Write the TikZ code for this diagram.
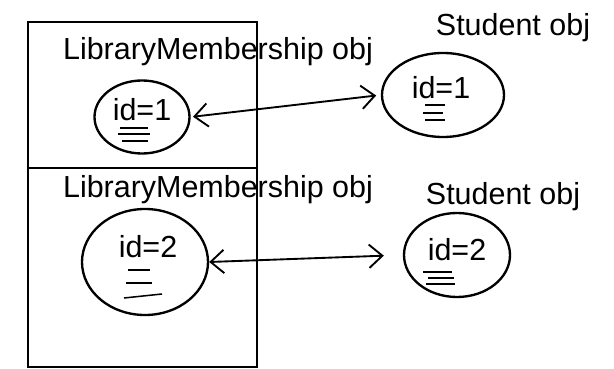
\documentclass[tikz,border=0pt]{standalone}
\usepackage{fontspec}
\setmainfont{Liberation Sans}
\usetikzlibrary{shapes.geometric,arrows.meta}

\begin{document}
\begin{tikzpicture}[x=0.03cm, y=-0.03cm, line width=2pt,
    objbox/.style={draw, rectangle, minimum width=6.87cm, inner sep=0pt},
    objcirc/.style={draw, ellipse, inner sep=0pt},
    lbl/.style={font=\fontsize{26}{30}\selectfont, inner sep=0pt},
    field/.style={line width=1.3pt},
    link/.style={{Straight Barb[length=4mm,width=7mm]}-{Straight Barb[length=4mm,width=7mm]}, line width=1.6pt}]
    \useasboundingbox (0,0) rectangle (614,369);
    % membership objects
    \node[objbox, minimum height=4.38cm] (box1) at (142.5,95) {};
    \node[objbox, minimum height=5.97cm] (box2) at (142.5,267.5) {};
    \node[lbl] (lm1) at (218,52) {LibraryMembership obj};
    \node[lbl] (lm2) at (218,190) {LibraryMembership obj};
    \node[objcirc, minimum width=2.85cm, minimum height=2.19cm] (m1) at (142,117) {};
    \node[objcirc, minimum width=3.78cm, minimum height=3.18cm] (m2) at (145,262) {};
    \node[lbl] (m1id) at (142,110) {id=1};
    \node[lbl] (m2id) at (148,247) {id=2};
    \draw[field] (120,128) -- (148,128);
    \draw[field] (118,134) -- (150,134);
    \draw[field] (122,141) -- (148,141);
    \draw[field] (128,270) -- (150,270);
    \draw[field] (126,283) -- (152,283);
    \draw[field] (124,298) -- (162,294);
    % student objects
    \node[lbl] (st1) at (513,28) {Student obj};
    \node[lbl] (st2) at (503,197) {Student obj};
    \node[objcirc, minimum width=3.66cm, minimum height=2.52cm] (s1) at (443,95) {};
    \node[objcirc, minimum width=3.18cm, minimum height=2.52cm] (s2) at (457,255) {};
    \node[lbl] (s1id) at (441,88) {id=1};
    \node[lbl] (s2id) at (457,250) {id=2};
    \draw[field] (425,105) -- (445,105);
    \draw[field] (423,113) -- (443,113);
    \draw[field] (425,120) -- (445,120);
    \draw[field] (423,272) -- (452,272);
    \draw[field] (428,278) -- (454,278);
    \draw[field] (426,284) -- (455,284);
    % links
    \draw[link, shorten <=2pt, shorten >=4pt] (m1.east) -- (s1.west);
    \draw[link, shorten >=0.57cm] (m2.east) -- (s2.west);
\end{tikzpicture}
\end{document}
